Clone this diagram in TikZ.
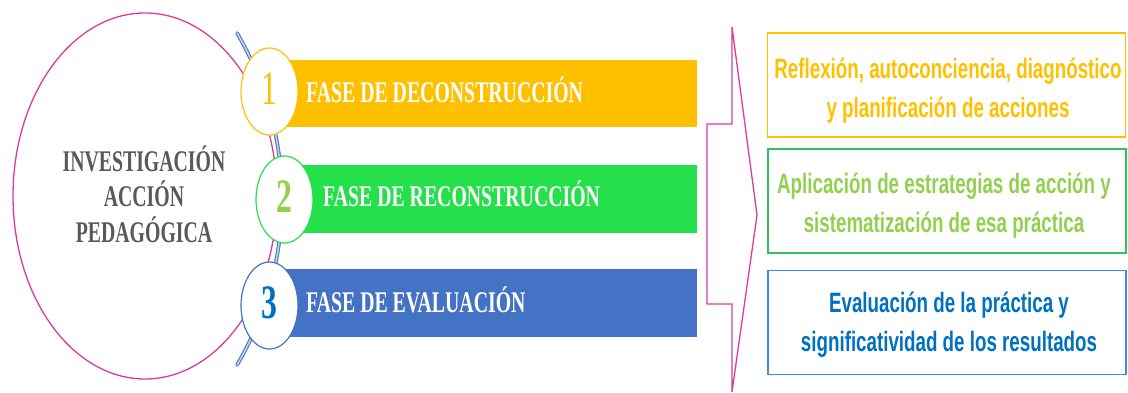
\documentclass[tikz,border=0pt]{standalone}
\usepackage{fontspec}
\usepackage{graphicx}
\setmainfont{Liberation Serif}
\newfontfamily\arialf{Liberation Sans}
\usetikzlibrary{shapes.geometric}
\definecolor{cgold}{HTML}{FFC000}
\definecolor{cbargreen}{HTML}{24E04A}
\definecolor{cbarblue}{HTML}{4472C4}
\definecolor{cpink}{HTML}{D63D9E}
\definecolor{carc}{HTML}{4A74C4}
\definecolor{carcin}{HTML}{C8D4EE}
\definecolor{cgray}{HTML}{595959}
\definecolor{cnumgreen}{HTML}{92D050}
\definecolor{cnumblue}{HTML}{0070C0}
\definecolor{cboxgreen}{HTML}{33C25A}
\definecolor{cboxblue}{HTML}{3A8DDE}
\begin{document}
\begin{tikzpicture}[x=1pt,y=-1pt,
  bar/.style={rectangle, draw=none, inner sep=0pt, minimum width=#1},
  numcirc/.style={ellipse, fill=white, draw=#1, line width=1.2pt, inner sep=0pt,
    minimum width=57pt, minimum height=87pt, text depth=5pt},
  bartext/.style={anchor=base west, inner sep=0pt, text=white,
    font=\fontsize{30}{34}\selectfont\bfseries},
  rbox/.style={rectangle, draw=#1, line width=1.3pt, fill=none, inner sep=0pt,
    minimum width=358pt, minimum height=104pt},
  rtext/.style={inner sep=0pt, text=#1,
    font=\arialf\fontsize{28}{39}\selectfont\bfseries},
  pinkline/.style={draw=cpink, line width=1.3pt},
  numfont/.style={font=\fontsize{48}{48}\selectfont}
]
\useasboundingbox (0,0) rectangle (1128,393);

% big ellipse
\draw[pinkline] (145,196) ellipse [x radius=132, y radius=183];
\node[inner sep=0pt, text=cgray, font=\fontsize{30}{34}\selectfont\bfseries] (main) at (144,199.2)
  {\scalebox{0.66}[1]{\begin{tabular}{@{}c@{}}INVESTIGACIÓN\\ ACCIÓN\\ PEDAGÓGICA\end{tabular}}};

% blue double arc
\draw[draw=carc, double=carcin, line width=1.1pt, double distance=1.5pt, line cap=round]
  plot[domain=-30.3:30.3, samples=80] ({-47+329*cos(\x)}, {199+329*sin(\x)});

% bars
\node[bar=417pt, minimum height=67pt, fill=cgold] (b1) at (488.5,93.5) {};
\node[bar=397pt, minimum height=68pt, fill=cbargreen] (b2) at (498.5,199) {};
\node[bar=417pt, minimum height=68pt, fill=cbarblue] (b3) at (488.5,303) {};

% number circles
\node[numcirc=cgold, text=cgold, numfont] (c1) at (269.5,91.5) {\scalebox{0.66}[1]{1}};
\node[numcirc=cbargreen, text=cnumgreen, numfont] (c2) at (284.5,199.5) {\scalebox{0.66}[1]{\bfseries 2}};
\node[numcirc=cbarblue, text=cnumblue, numfont] (c3) at (269.5,305.5) {\scalebox{0.66}[1]{\bfseries 3}};

% bar texts
\node[bartext] (f1) at (306,103) {\scalebox{0.66}[1]{FASE DE DECONSTRUCCIÓN}};
\node[bartext] (f2) at (323,207) {\scalebox{0.66}[1]{FASE DE RECONSTRUCCIÓN}};
\node[bartext] (f3) at (306,312) {\scalebox{0.66}[1]{FASE DE EVALUACIÓN}};

% pink chevron bracket
\draw[pinkline, line join=miter] (732,27) -- (732,124) -- (707,124) -- (707,304) -- (732,304)
  -- (732,392) -- (757,215) -- cycle;

% right boxes
\node[rbox=cgold] (r1) at (946.5,85) {};
\node[rbox=cboxgreen] (r2) at (947,201) {};
\node[rbox=cboxblue] (r3) at (947,322.5) {};

\node[rtext=cgold] (t1) at (948,90) {\scalebox{0.67}[1]{\begin{tabular}{@{}c@{}}Reflexión, autoconciencia, diagnóstico\\ y planificación de acciones\end{tabular}}};
\node[rtext=cnumgreen] (t2) at (944,205) {\scalebox{0.67}[1]{\begin{tabular}{@{}c@{}}Aplicación de estrategias de acción y\\ sistematización de esa práctica\end{tabular}}};
\node[rtext=cnumblue] (t3) at (949,324) {\scalebox{0.67}[1]{\begin{tabular}{@{}c@{}}Evaluación de la práctica y\\ significatividad de los resultados\end{tabular}}};
\end{tikzpicture}
\end{document}
